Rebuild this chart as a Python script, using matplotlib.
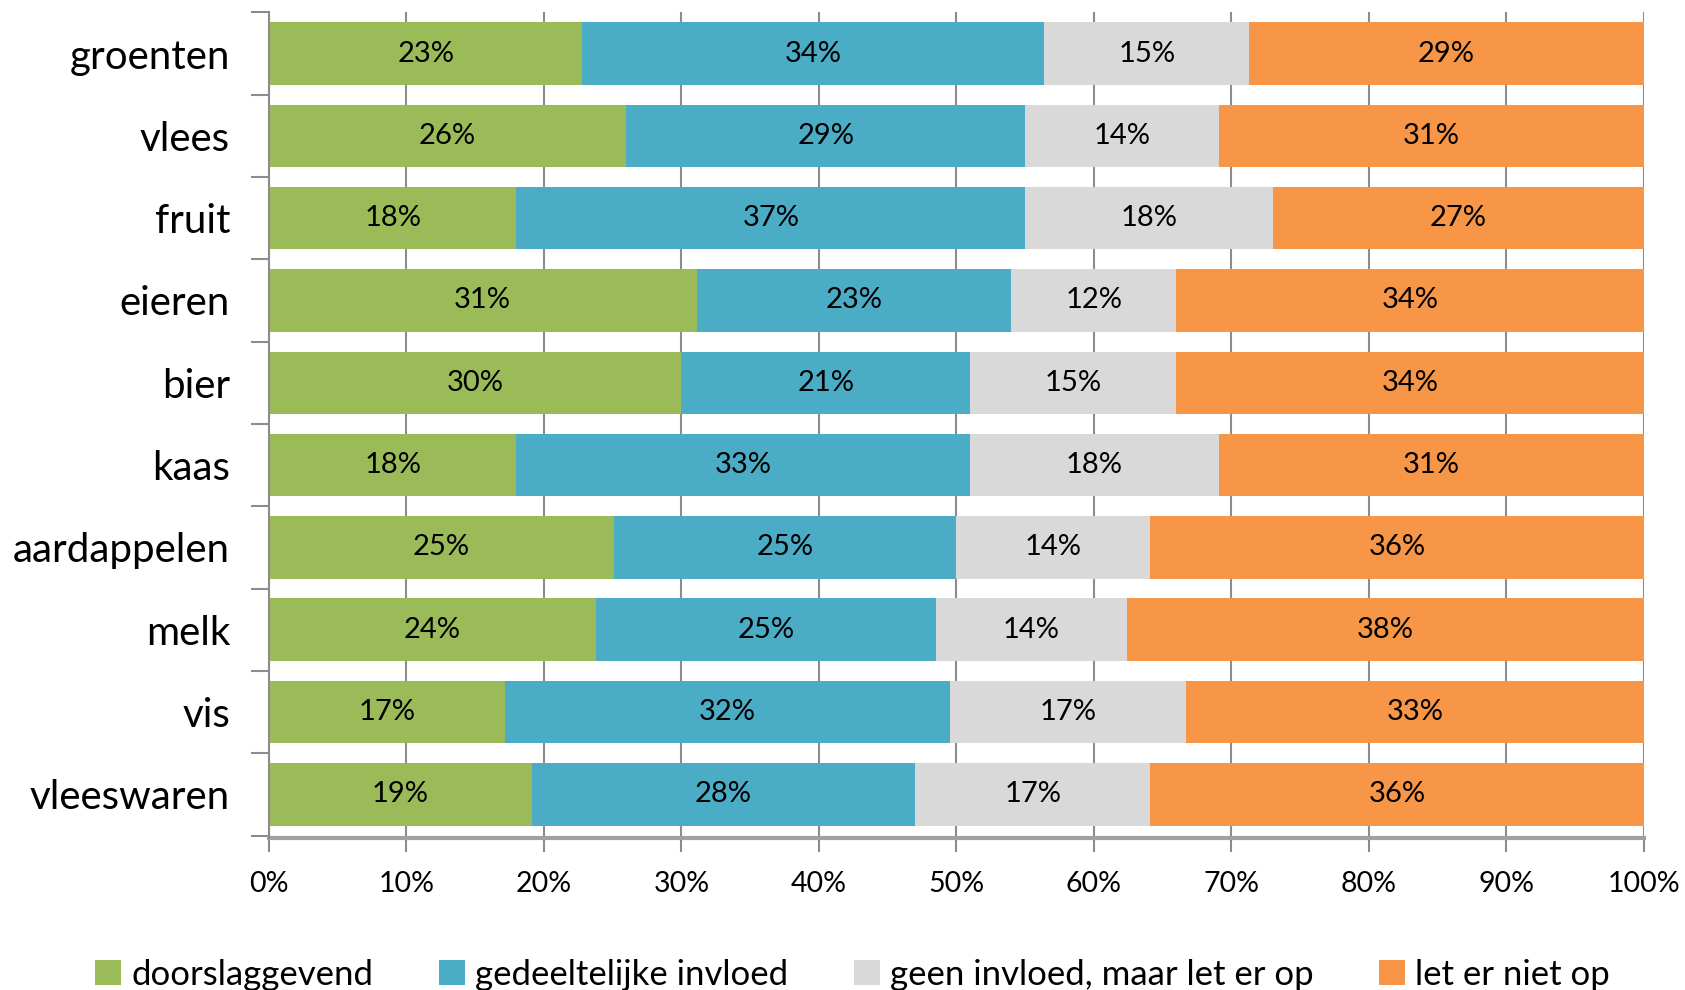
import numpy as np
import matplotlib
matplotlib.use("Agg")
import matplotlib.pyplot as plt

plt.rcParams['font.family'] = ['Lato', 'DejaVu Sans']

# ==========================================
# data (aandeel per productgroep, in %)
# ==========================================
categories = ['groenten', 'vlees', 'fruit', 'eieren', 'bier', 'kaas',
              'aardappelen', 'melk', 'vis', 'vleeswaren']
series_names = ['doorslaggevend', 'gedeeltelijke invloed',
                'geen invloed, maar let er op', 'let er niet op']

doorslaggevend = [22.8, 26.0, 18.0, 31.1, 30.0, 18.0, 25.1, 23.8, 17.2, 19.1]
gedeeltelijk   = [33.6, 29.0, 37.0, 22.9, 21.0, 33.0, 24.9, 24.7, 32.3, 27.9]
geen_invloed   = [14.9, 14.1, 18.0, 12.0, 15.0, 18.1, 14.1, 13.9, 17.2, 17.1]
niet_op        = [28.7, 30.9, 27.0, 34.0, 34.0, 30.9, 35.9, 37.6, 33.3, 35.9]

xticks = [0, 10, 20, 30, 40, 50, 60, 70, 80, 90, 100]

colors = ['#9BBB59', '#4BACC6', '#D9D9D9', '#F79646']
grid_col = '#8c8c8c'

# ==========================================
# figure
# ==========================================
fig = plt.figure(figsize=(16.85, 9.9), dpi=100)
ax = fig.add_axes([0.1596, 0.1535, 0.816, 0.834])

y = np.arange(len(categories))
series = [doorslaggevend, gedeeltelijk, geen_invloed, niet_op]
left = np.zeros(len(categories))
for name, vals, col in zip(series_names, series, colors):
    vals = np.array(vals)
    bars = ax.barh(y, vals, left=left, height=0.76, color=col, label=name,
                   zorder=3)
    ax.bar_label(bars, labels=[f'{v:.0f}%' for v in vals], label_type='center',
                 fontsize=21, color='black')
    left += vals

ax.set_xlim(0, 100)
ax.set_ylim(len(categories) - 0.47, -0.47)

ax.set_xticks(xticks)
ax.set_xticklabels([f'{t}%' for t in xticks], fontsize=20.5)
ax.xaxis.grid(True, color=grid_col, linewidth=1.5, zorder=0)
ax.tick_params(axis='x', length=10, width=1.5, color=grid_col, pad=14)

ax.set_yticks(y)
ax.set_yticklabels(categories, fontsize=29)
ax.set_yticks(np.arange(len(categories) + 1) - 0.5, minor=True)
ax.tick_params(axis='y', which='major', length=0, pad=28)
ax.tick_params(axis='y', which='minor', length=13, width=1.5, color=grid_col)

for s in ['top', 'right']:
    ax.spines[s].set_visible(False)
ax.spines['left'].set_color(grid_col)
ax.spines['left'].set_linewidth(1.5)
ax.spines['bottom'].set_color('#a0a0a0')
ax.spines['bottom'].set_linewidth(3)
ax.spines['left'].set_zorder(4)

fig.legend(loc='center', bbox_to_anchor=(0.506, 0.0155), ncol=4,
           frameon=False, fontsize=25, handlelength=0.75, handleheight=0.75,
           handletextpad=0.3, columnspacing=1.88, borderaxespad=0)

fig.savefig('out.png', dpi=100)
